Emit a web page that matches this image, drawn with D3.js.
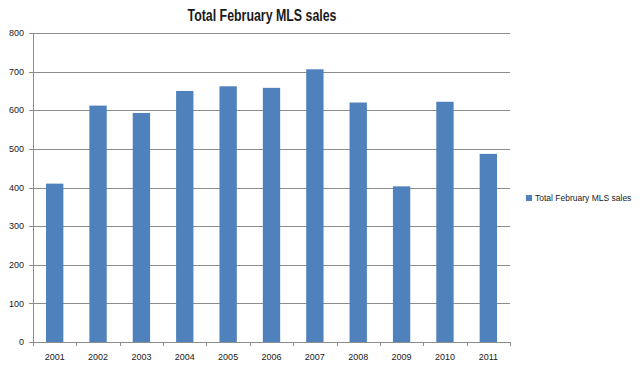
<!DOCTYPE html>
<html>
<head>
<meta charset="utf-8">
<script src="https://cdn.jsdelivr.net/npm/d3@7"></script>
<style>
  body { margin: 0; background: #fff; }
  text { font-family: "Liberation Sans", Arial, sans-serif; fill: #1a1a1a; }
</style>
</head>
<body>
<div id="chart"></div>
<script>
// data
const years = ["2001", "2002", "2003", "2004", "2005", "2006", "2007", "2008", "2009", "2010", "2011"];
const sales = [410, 612, 593, 650, 662, 658, 706, 620, 403, 622, 487];
const yTicks = [0, 100, 200, 300, 400, 500, 600, 700, 800];
const seriesName = "Total February MLS sales";

const width = 640, height = 371;
const margin = {top: 33, right: 130, bottom: 29, left: 33};

const svg = d3.select("#chart").append("svg")
    .attr("width", width)
    .attr("height", height);

const x = d3.scaleBand()
    .domain(years)
    .range([margin.left, width - margin.right])
    .paddingInner(0.6)
    .paddingOuter(0.3);

const y = d3.scaleLinear()
    .domain([0, 800])
    .range([height - margin.bottom, margin.top]);

// gridlines
svg.append("g")
  .selectAll("line")
  .data(yTicks)
  .join("line")
    .attr("x1", margin.left - 4)
    .attr("x2", width - margin.right)
    .attr("y1", d => Math.round(y(d)) + 0.5)
    .attr("y2", d => Math.round(y(d)) + 0.5)
    .attr("stroke", "#8c8c8c")
    .attr("stroke-width", 1);

// y labels
svg.append("g")
  .selectAll("text")
  .data(yTicks)
  .join("text")
    .attr("x", margin.left - 9)
    .attr("y", d => y(d))
    .attr("dy", "0.35em")
    .attr("text-anchor", "end")
    .style("font-size", "9px")
    .text(d => d);

// bars
svg.append("g")
  .selectAll("rect")
  .data(years)
  .join("rect")
    .attr("x", d => x(d))
    .attr("width", x.bandwidth())
    .attr("y", (d, i) => y(sales[i]))
    .attr("height", (d, i) => y(0) - y(sales[i]))
    .attr("fill", "#4f81bd");

// axis lines
const step = x.step();
svg.append("line")
    .attr("x1", margin.left + 0.5).attr("x2", margin.left + 0.5)
    .attr("y1", y(800)).attr("y2", y(0))
    .attr("stroke", "#8c8c8c");
svg.append("line")
    .attr("x1", margin.left).attr("x2", width - margin.right)
    .attr("y1", Math.round(y(0)) + 0.5).attr("y2", Math.round(y(0)) + 0.5)
    .attr("stroke", "#8c8c8c");

// category boundary ticks
svg.append("g")
  .selectAll("line")
  .data(d3.range(years.length + 1))
  .join("line")
    .attr("x1", i => Math.round(margin.left + i * step) + 0.5)
    .attr("x2", i => Math.round(margin.left + i * step) + 0.5)
    .attr("y1", y(0))
    .attr("y2", y(0) + 4)
    .attr("stroke", "#8c8c8c");

// x labels
svg.append("g")
  .selectAll("text")
  .data(years)
  .join("text")
    .attr("x", d => x(d) + x.bandwidth() / 2)
    .attr("y", height - 11)
    .attr("text-anchor", "middle")
    .style("font-size", "9px")
    .text(d => d);

// title
svg.append("text")
    .attr("x", 262)
    .attr("y", 21)
    .attr("text-anchor", "middle")
    .attr("textLength", 149)
    .attr("lengthAdjust", "spacingAndGlyphs")
    .style("font-size", "16px")
    .style("font-weight", "bold")
    .text(seriesName);

// legend
const legend = svg.append("g").attr("transform", "translate(526,195)");
legend.append("rect")
    .attr("width", 6).attr("height", 6)
    .attr("fill", "#4f81bd");
legend.append("text")
    .attr("x", 9)
    .attr("y", 3)
    .attr("dy", "0.35em")
    .style("font-size", "8.5px")
    .text(seriesName);
</script>
</body>
</html>
